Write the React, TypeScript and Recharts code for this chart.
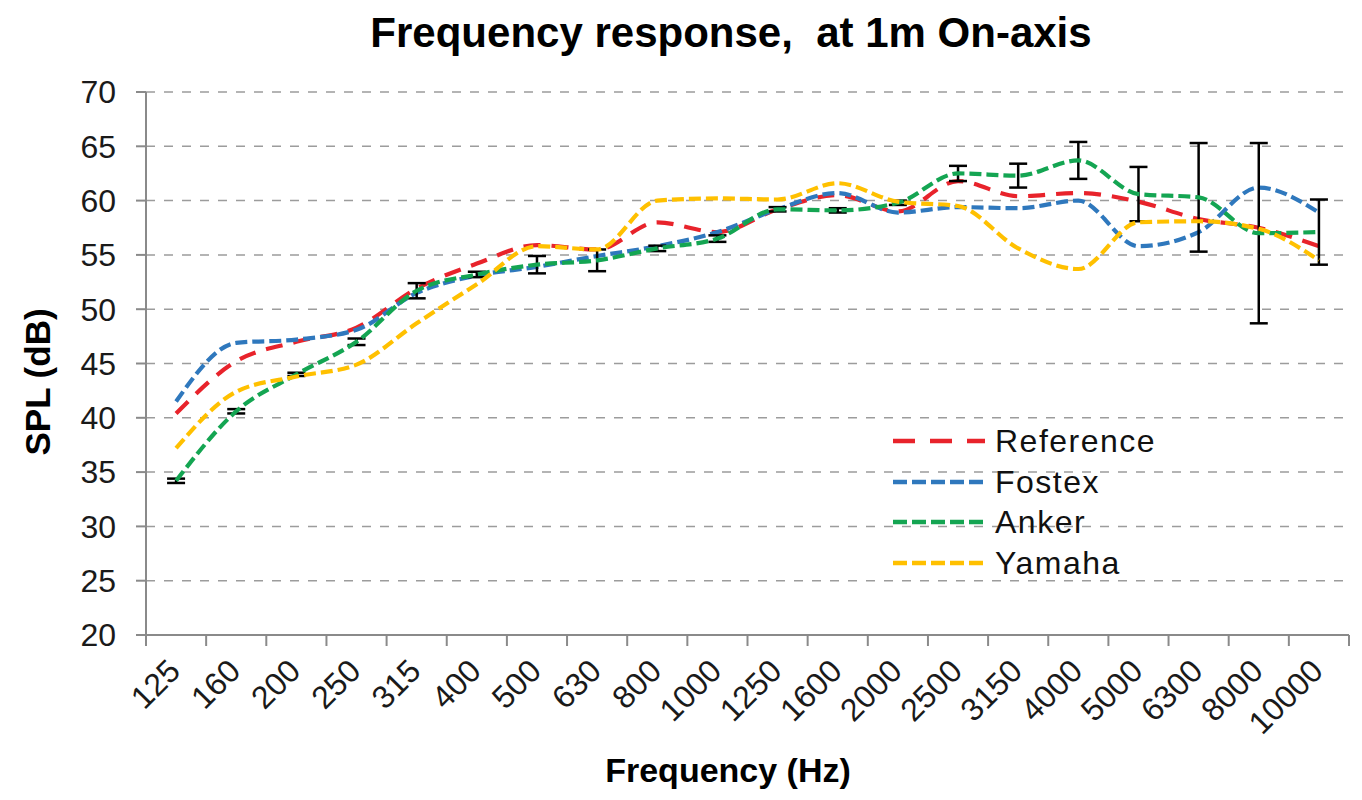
import React from 'react';
import { LineChart, Line, XAxis, YAxis, CartesianGrid, ErrorBar, Legend } from 'recharts';

// 1/3-octave bands, SPL in dB at 1 m on-axis
const frequencies = ['125', '160', '200', '250', '315', '400', '500', '630', '800', '1000', '1250', '1600', '2000', '2500', '3150', '4000', '5000', '6300', '8000', '10000'];
const reference = [40.4, 45.2, 47.0, 48.3, 51.9, 54.2, 55.9, 55.5, 58.0, 57.1, 59.2, 60.5, 59.0, 61.8, 60.4, 60.7, 59.9, 58.3, 57.5, 55.8];
const fostex = [41.5, 46.9, 47.2, 48.1, 51.5, 53.1, 53.9, 54.9, 55.8, 57.1, 59.2, 60.7, 58.9, 59.4, 59.3, 60.0, 55.8, 57.1, 61.2, 58.9];
const anker = [34.2, 40.6, 44.0, 47.0, 51.7, 53.2, 54.1, 54.5, 55.6, 56.5, 59.2, 59.1, 59.8, 62.5, 62.3, 63.7, 60.6, 60.3, 57.0, 57.1];
const yamaha = [37.2, 42.4, 43.8, 44.9, 48.7, 52.3, 55.8, 55.5, 60.0, 60.2, 60.1, 61.6, 59.9, 59.5, 55.6, 53.7, 58.0, 58.1, 57.4, 54.5];
const ankerError = [0.2, 0.2, 0.15, 0.3, 0.7, 0.25, 0.8, 1.0, 0.25, 0.3, 0.2, 0.2, 0.2, 0.7, 1.1, 1.7, 2.5, 5.0, 8.3, 3.0];
const yTicks = [20, 25, 30, 35, 40, 45, 50, 55, 60, 65, 70];

const series = [
  { key: 'reference', name: 'Reference', color: '#E8232B', dash: '17 11', legendDash: '22 15' },
  { key: 'fostex', name: 'Fostex', color: '#2F78BD', dash: '12 5', legendDash: '14 5' },
  { key: 'anker', name: 'Anker', color: '#14A552', dash: '12 5', legendDash: '14 5' },
  { key: 'yamaha', name: 'Yamaha', color: '#FFC000', dash: '12 5', legendDash: '14 5' },
];

const data = frequencies.map((freq, i) => ({
  freq,
  reference: reference[i],
  fostex: fostex[i],
  anker: anker[i],
  yamaha: yamaha[i],
  ankerError: ankerError[i],
}));

const WIDTH = 1362;
const HEIGHT = 800;
const PLOT_LEFT = 146;
const PLOT_RIGHT = 1349;
const PLOT_TOP = 92;
const PLOT_BOTTOM = 635;
const BAND = (PLOT_RIGHT - PLOT_LEFT) / frequencies.length;
const FONT = '"Liberation Sans", Arial, sans-serif';
const AXIS = '#8a8a8a';

// Excel-style category axis: tick marks between categories, labels at -45deg
const FreqTick = (props: any) => {
  const { x, y, payload, index } = props;
  const axisY = y - 10;
  const lx = x + 6;
  const ly = axisY + 38;
  return (
    <g>
      <line x1={x - BAND / 2} y1={axisY} x2={x - BAND / 2} y2={axisY + 11} stroke={AXIS} strokeWidth={2} />
      {index === frequencies.length - 1 && (
        <line x1={x + BAND / 2} y1={axisY} x2={x + BAND / 2} y2={axisY + 11} stroke={AXIS} strokeWidth={2} />
      )}
      <text x={lx} y={ly} transform={`rotate(-45, ${lx}, ${ly})`} textAnchor="end" fill="#1a1a1a" fontSize={32} fontFamily={FONT}>
        {payload.value}
      </text>
    </g>
  );
};

const renderLegend = () => (
  <div style={{ fontFamily: FONT, fontSize: 32, color: '#111' }}>
    {series.map((s) => (
      <div key={s.key} style={{ display: 'flex', alignItems: 'center', height: 40.5 }}>
        <svg width={92} height={10} style={{ display: 'block' }}>
          <line x1={0} y1={5} x2={92} y2={5} stroke={s.color} strokeWidth={4.5} strokeDasharray={s.legendDash} />
        </svg>
        <span style={{ marginLeft: 10, letterSpacing: 1.5, lineHeight: 1 }}>{s.name}</span>
      </div>
    ))}
  </div>
);

export default function App() {
  return (
    <div style={{ position: 'absolute', left: 0, top: 0, width: WIDTH, height: HEIGHT, background: '#fff' }}>
      <LineChart
        width={WIDTH}
        height={HEIGHT}
        data={data}
        margin={{ top: PLOT_TOP, right: WIDTH - PLOT_RIGHT, left: PLOT_LEFT - 60, bottom: HEIGHT - PLOT_BOTTOM - 120 }}
      >
        <CartesianGrid vertical={false} stroke="#9c9c9c" strokeWidth={1.5} strokeDasharray="9 9" />
        <XAxis
          dataKey="freq"
          scale="band"
          interval={0}
          height={120}
          tickLine={false}
          tickSize={10}
          tickMargin={0}
          axisLine={{ stroke: AXIS, strokeWidth: 2 }}
          tick={<FreqTick />}
        />
        <YAxis
          width={60}
          domain={[20, 70]}
          ticks={yTicks}
          interval={0}
          allowDataOverflow
          tickSize={10}
          tickMargin={20}
          axisLine={{ stroke: AXIS, strokeWidth: 2 }}
          tickLine={{ stroke: AXIS, strokeWidth: 2 }}
          tick={{ fill: '#1a1a1a', fontSize: 32, fontFamily: FONT }}
        />
        <Legend
          layout="vertical"
          align="center"
          verticalAlign="middle"
          content={renderLegend}
          wrapperStyle={{ left: 893, top: 421, width: 'auto' }}
        />
        {series.map((s) => (
          <Line
            key={s.key}
            type="monotone"
            dataKey={s.key}
            name={s.name}
            stroke={s.color}
            strokeWidth={4.2}
            strokeDasharray={s.dash}
            dot={false}
            activeDot={false}
            isAnimationActive={false}
          >
            {s.key === 'anker' && (
              <ErrorBar dataKey="ankerError" direction="y" width={9} stroke="#000" strokeWidth={2.5} isAnimationActive={false} />
            )}
          </Line>
        ))}
      </LineChart>
      <svg width={WIDTH} height={HEIGHT} style={{ position: 'absolute', left: 0, top: 0, pointerEvents: 'none' }}>
        <text x={731} y={47} textAnchor="middle" fontFamily={FONT} fontWeight="bold" fontSize={42} fill="#000" style={{ whiteSpace: 'pre' }}>
          {'Frequency response,  at 1m On-axis'}
        </text>
        <text x={728} y={782} textAnchor="middle" fontFamily={FONT} fontWeight="bold" fontSize={34} fill="#000">
          Frequency (Hz)
        </text>
        <text x={50} y={382} textAnchor="middle" transform="rotate(-90, 50, 382)" fontFamily={FONT} fontWeight="bold" fontSize={35} fill="#000">
          SPL (dB)
        </text>
      </svg>
    </div>
  );
}
